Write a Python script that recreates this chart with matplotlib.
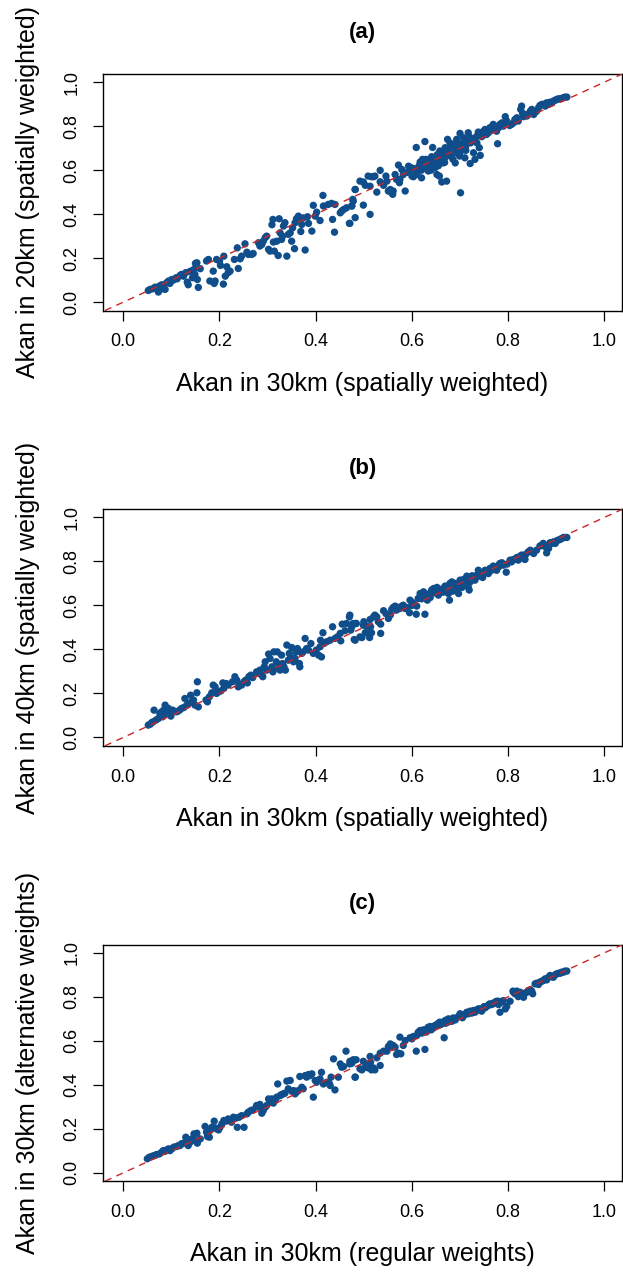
import matplotlib
matplotlib.use("Agg")
import matplotlib.pyplot as plt

plt.rcParams['font.family'] = ['Liberation Sans', 'DejaVu Sans']

# ---------------- data ----------------
titles = ["(a)", "(b)", "(c)"]
xlabels = ["Akan in 30km (spatially weighted)",
           "Akan in 30km (spatially weighted)",
           "Akan in 30km (regular weights)"]
ylabels = ["Akan in 20km (spatially weighted)",
           "Akan in 40km (spatially weighted)",
           "Akan in 30km (alternative weights)"]
tick_values = [0.0, 0.2, 0.4, 0.6, 0.8, 1.0]
tick_labels = ["0.0", "0.2", "0.4", "0.6", "0.8", "1.0"]

a_x = [.052, .056, .062, .066, .073, .075, .080, .083, .087, .090, .094, .097, .101, .104,
       .110, .112, .118, .121, .125, .130, .133, .135, .139, .142, .144, .147, .150, .153,
       .154, .156, .149, .160, .173, .177, .180, .187, .189, .191, .194, .200, .202, .208,
       .209, .212, .215, .218, .222, .231, .237, .239, .243, .246, .253, .257, .260, .267,
       .270, .281, .284, .288, .291, .295, .298, .302, .305, .309, .311, .312, .314, .319,
       .322, .324, .326, .329, .331, .333, .336, .340, .343, .347, .350, .352, .356, .357,
       .360, .364, .367, .369, .371, .374, .378, .383, .385, .392, .395, .399, .402, .409,
       .415, .416, .426, .433, .435, .439, .440, .451, .454, .458, .464, .470, .475, .478,
       .482, .492,
       .471, .475, .477, .482, .482, .499, .499, .503, .509, .513, .513, .516, .520, .523,
       .527, .534, .534, .541, .546, .548, .551, .555, .558, .560, .561, .565, .568, .572,
       .574, .575, .579, .582, .586, .593, .596, .600, .603, .606, .609, .610, .613, .617,
       .620, .622, .624, .627, .629, .631, .634, .638, .641, .643, .645, .648, .652, .653,
       .655, .657, .658, .662, .664, .665, .669, .672, .674, .676, .679, .681, .683, .686,
       .690, .692, .693, .697, .699, .700, .701, .704, .707, .710, .714, .717, .721, .722,
       .724, .728, .731, .735, .738, .740, .742, .745, .749, .752, .755, .759, .762, .766,
       .769, .773, .776, .778, .780, .783, .787, .790, .794, .797, .803, .807, .811, .814,
       .818, .821, .826, .828, .830, .832, .835, .839, .842, .846, .849, .853, .856, .859,
       .863, .866, .870, .873, .877, .880, .884, .887, .891, .894, .898, .901, .904, .908,
       .911, .915, .918, .922]
a_y = [.053, .058, .061, .068, .046, .073, .079, .061, .058, .088, .096, .085, .103, .100,
       .111, .106, .121, .126, .118, .134, .091, .079, .140, .141, .111, .149, .176, .179,
       .103, .067, .126, .152, .187, .194, .096, .141, .085, .096, .194, .187, .167, .082,
       .209, .118, .161, .134, .141, .194, .247, .153, .197, .209, .265, .227, .217, .217,
       .221, .270, .255, .262, .277, .293, .300, .240, .232, .352, .376, .273, .232, .277,
       .212, .379, .315, .285, .300, .346, .361, .209, .308, .315, .277, .338, .243, .361,
       .379, .391, .376, .321, .353, .383, .237, .388, .358, .323, .440, .391, .409, .371,
       .485, .437, .444, .449, .376, .318, .444, .406, .414, .421, .429, .358, .437, .459,
       .512, .550,
       .358, .437, .467, .384, .512, .441, .546, .531, .573, .527, .399, .570, .570, .573,
       .500, .599, .547, .531, .573, .550, .505, .512, .497, .490, .505, .580, .558, .623,
       .543, .558, .603, .580, .505, .618, .596, .573, .570, .606, .703, .580, .596, .637,
       .565, .649, .618, .730, .649, .611, .596, .649, .661, .703, .633, .611, .580, .671,
       .649, .573, .687, .546, .667, .633, .702, .550, .740, .694, .724, .664, .694, .717,
       .633, .679, .740, .706, .664, .767, .497, .694, .747, .656, .732, .770, .630, .724,
       .740, .679, .649, .724, .773, .702, .667, .752, .777, .785, .762, .770, .793, .785,
       .808, .800, .777, .720, .793, .808, .815, .800, .843, .823, .803, .808, .815, .830,
       .838, .823, .876, .891, .858, .843, .853, .846, .853, .868, .876, .853, .864, .868,
       .883, .894, .899, .899, .891, .906, .899, .909, .906, .914, .918, .921, .924, .924,
       .926, .929, .932, .932]
# denser core of panel (a)
a_x_core = [.615, .625, .632, .640, .647, .650, .660, .663, .667, .670, .675, .680, .684,
            .688, .691, .695, .698, .702, .706, .709, .712, .716, .720, .726, .733, .737,
            .744, .750, .757, .764, .655, .668, .685, .700, .712, .620, .605, .590, .640,
            .600]
a_y_core = [.620, .640, .630, .620, .655, .640, .660, .650, .680, .660, .670, .690, .680,
            .700, .690, .710, .720, .700, .720, .730, .710, .740, .750, .740, .750, .760,
            .770, .760, .780, .790, .620, .635, .650, .680, .690, .600, .590, .590, .600,
            .610]

b_x = [.052, .056, .059, .062, .064, .068, .073, .076, .078, .080, .082, .085, .087, .089,
       .090, .094, .097, .099, .103, .108, .112, .117, .121, .126, .128, .132, .136, .140,
       .142, .146, .149, .153, .154, .156, .172, .175, .179, .184, .187, .191, .194, .198,
       .203, .207, .209, .214, .218, .227, .232, .236, .239, .241, .246, .251, .254, .258,
       .261, .265, .269, .277, .281, .284, .288, .290, .293, .295, .298, .302, .305, .309,
       .311, .313, .318, .320, .322, .324, .326, .329, .331, .334, .337, .340, .343, .345,
       .348, .350, .354, .357, .359, .362, .366, .367, .371, .374, .378, .381, .385, .390,
       .395, .401, .406, .409, .410, .412, .415, .417, .423, .430, .435, .440, .445, .451,
       .452, .455, .461, .464, .470, .473, .477, .480, .484, .492,
       .471, .475, .478, .482, .484, .496, .499, .500, .503, .506, .509, .512, .514, .513,
       .516, .520, .523, .527, .530, .535, .535, .541, .546, .551, .555, .558, .561, .565,
       .568, .572, .575, .579, .582, .586, .595, .596, .600, .603, .609, .610, .613, .617,
       .620, .624, .627, .629, .632, .636, .638, .641, .645, .648, .652, .655, .658, .662,
       .665, .669, .672, .676, .678, .679, .683, .686, .690, .693, .697, .700, .704, .707,
       .710, .714, .717, .719, .721, .724, .728, .731, .735, .738, .740, .743, .747, .752,
       .755, .759, .762, .766, .769, .773, .776, .780, .783, .787, .790, .796, .798, .804,
       .807, .811, .814, .818, .821, .825, .828, .832, .835, .837, .842, .846, .849, .853,
       .859, .866, .870, .873, .877, .880, .884, .887, .891, .894, .898, .901, .904, .908,
       .911, .915, .918, .922]
b_y = [.056, .060, .067, .071, .124, .079, .086, .109, .097, .117, .094, .127, .147, .109,
       .124, .132, .121, .097, .124, .117, .117, .124, .132, .136, .177, .147, .154, .192,
       .162, .170, .147, .203, .253, .139, .170, .162, .185, .203, .238, .230, .200, .207,
       .212, .248, .223, .245, .238, .253, .276, .260, .230, .242, .238, .253, .260, .248,
       .276, .283, .272, .298, .291, .306, .283, .276, .321, .344, .306, .379, .359, .321,
       .298, .389, .344, .389, .313, .329, .306, .374, .336, .321, .306, .420, .351, .382,
       .366, .409, .344, .359, .389, .404, .336, .321, .382, .389, .450, .404, .397, .427,
       .382, .397, .374, .412, .442, .366, .476, .427, .435, .442, .503, .450, .457, .473,
       .439, .515, .485, .518, .548, .488, .515, .445, .518, .457,
       .556, .503, .518, .442, .518, .454, .510, .526, .476, .506, .476, .454, .503, .536,
       .476, .548, .556, .548, .526, .515, .473, .576, .563, .541, .556, .582, .591, .597,
       .579, .591, .586, .597, .601, .586, .567, .624, .615, .609, .560, .597, .632, .654,
       .647, .662, .560, .632, .624, .654, .636, .670, .677, .657, .682, .647, .662, .673,
       .677, .688, .670, .654, .624, .700, .707, .685, .692, .677, .654, .715, .682, .718,
       .692, .733, .685, .670, .707, .730, .723, .715, .738, .760, .733, .748, .727, .760,
       .753, .745, .768, .760, .779, .768, .760, .783, .791, .794, .783, .751, .788, .806,
       .798, .809, .809, .818, .806, .824, .829, .813, .809, .833, .844, .851, .844, .836,
       .851, .870, .874, .882, .867, .839, .859, .885, .882, .889, .882, .894, .897, .900,
       .904, .909, .909, .909]
b_x_core = [.620, .630, .640, .650, .660, .665, .675, .680, .690, .700, .705, .715, .725,
            .730, .745, .750, .760, .770, .780, .620, .645, .685, .720, .600, .590]
b_y_core = [.630, .645, .655, .665, .670, .660, .685, .680, .700, .700, .710, .715, .735,
            .725, .745, .750, .755, .775, .775, .645, .660, .665, .710, .600, .590]

c_x = [.050, .054, .059, .062, .066, .069, .075, .080, .083, .087, .090, .094, .097, .101,
       .105, .111, .115, .118, .121, .125, .130, .133, .135, .139, .142, .147, .149, .153,
       .154, .160, .170, .173, .175, .179, .180, .184, .189, .191, .194, .198, .201, .205,
       .209, .214, .218, .225, .229, .236, .237, .241, .246, .251, .257, .260, .265, .269,
       .277, .281, .284, .288, .291, .295, .298, .302, .305, .309, .312, .316, .319, .321,
       .326, .329, .333, .336, .340, .343, .347, .350, .354, .357, .360, .364, .367, .371,
       .374, .378, .381, .385, .388, .392, .395, .399, .402, .409, .412, .416, .423, .428,
       .430, .432, .437, .440, .447, .451, .454, .458, .463, .471, .475, .478, .482, .484,
       .492,
       .471, .475, .478, .482, .496, .499, .503, .506, .509, .513, .514, .516, .520, .523,
       .527, .534, .534, .541, .548, .551, .555, .558, .561, .565, .568, .572, .575, .577,
       .582, .586, .596, .600, .603, .609, .610, .613, .617, .620, .624, .627, .629, .631,
       .634, .638, .641, .645, .648, .652, .655, .658, .662, .665, .667, .669, .672, .676,
       .679, .683, .686, .690, .693, .697, .700, .704, .707, .710, .714, .717, .721, .724,
       .728, .731, .735, .738, .742, .745, .749, .752, .755, .759, .762, .766, .769, .773,
       .776, .780, .783, .787, .790, .794, .797, .804, .810, .811, .814, .818, .821, .825,
       .828, .832, .835, .839, .842, .846, .849, .851, .856, .859, .863, .866, .870, .873,
       .877, .880, .884, .887, .891, .894, .898, .901, .904, .908, .911, .915, .918, .922]
c_y = [.064, .071, .074, .077, .079, .083, .086, .094, .101, .098, .104, .109, .101, .109,
       .117, .120, .124, .124, .132, .135, .162, .144, .124, .139, .154, .177, .147, .180,
       .135, .154, .211, .185, .165, .162, .192, .207, .235, .204, .200, .195, .207, .223,
       .238, .235, .245, .230, .253, .250, .207, .253, .260, .207, .268, .276, .283, .286,
       .306, .298, .311, .271, .283, .298, .306, .336, .321, .336, .317, .329, .344, .404,
       .351, .356, .359, .362, .417, .382, .420, .371, .374, .359, .367, .374, .438, .389,
       .382, .442, .435, .447, .442, .450, .344, .420, .412, .427, .457, .404, .412, .407,
       .397, .435, .518, .377, .435, .495, .480, .483, .553, .495, .503, .511, .435, .514,
       .473,
       .507, .498, .514, .435, .468, .507, .480, .495, .477, .529, .503, .468, .477, .468,
       .523, .488, .544, .553, .553, .574, .586, .571, .579, .571, .538, .544, .617, .541,
       .579, .601, .614, .609, .620, .553, .624, .639, .647, .644, .650, .561, .647, .654,
       .662, .665, .654, .659, .670, .674, .680, .685, .677, .685, .614, .692, .695, .700,
       .692, .689, .704, .700, .704, .711, .723, .711, .715, .720, .730, .723, .735, .726,
       .738, .730, .741, .745, .738, .735, .753, .750, .756, .761, .768, .765, .771, .776,
       .780, .765, .730, .776, .783, .745, .756, .780, .826, .821, .814, .826, .801, .821,
       .806, .798, .817, .821, .829, .832, .826, .814, .859, .862, .856, .867, .871, .874,
       .882, .877, .889, .897, .892, .889, .901, .904, .907, .907, .912, .912, .917, .917]
c_x_core = [.620, .630, .645, .655, .660, .670, .680, .690, .700, .710, .720, .730, .740,
            .750, .760, .770, .780, .640, .675, .705]
c_y_core = [.635, .640, .665, .670, .675, .680, .695, .695, .715, .720, .730, .735, .745,
            .755, .765, .770, .780, .650, .685, .705]

panels = [(a_x + a_x_core, a_y + a_y_core),
          (b_x + b_x_core, b_y + b_y_core),
          (c_x + c_x_core, c_y + c_y_core)]

# ---------------- style ----------------
point_color = "#104E8B"
line_color = "#CD2626"

W, H = 623, 1273
fig = plt.figure(figsize=(W / 100, H / 100), dpi=100)

left_px, right_px = 103.3, 621.7
tops_px = [74.0, 509.3, 944.7]
ax_h_px = 236.5

for i, (xs, ys) in enumerate(panels):
    top = tops_px[i]
    ax = fig.add_axes([left_px / W, 1 - (top + ax_h_px) / H,
                       (right_px - left_px) / W, ax_h_px / H])
    ax.set_xlim(-0.0415, 1.036)
    ax.set_ylim(-0.038, 1.037)
    ax.axline((0, 0), slope=1, color=line_color, lw=1.0,
              linestyle=(0, (5, 4)), zorder=3)
    ax.scatter(xs, ys, s=28, color=point_color, edgecolors='none', zorder=2)

    ax.set_xticks(tick_values)
    ax.set_xticklabels(tick_labels)
    ax.set_yticks(tick_values)
    ax.set_yticklabels(tick_labels, rotation=90, va='center')
    ax.tick_params(axis='both', direction='out', length=7.5, width=0.9,
                   labelsize=13, pad=9, colors='black')
    for sp in ax.spines.values():
        sp.set_linewidth(1.0)
        sp.set_color('black')

    ax.set_xlabel(xlabels[i], fontsize=18)
    ax.xaxis.set_label_coords(0.5, -73 / ax_h_px)
    ax.xaxis.label.set_va('center')
    ax.set_ylabel(ylabels[i], fontsize=18)
    ax.yaxis.set_label_coords(-(left_px - 28) / (right_px - left_px), 0.5)
    ax.yaxis.label.set_va('center')

    ax.text(0.5, 1 + 41 / ax_h_px, titles[i], transform=ax.transAxes,
            ha='center', va='center', fontsize=16, fontweight='bold')

fig.savefig("out.png", dpi=100)
